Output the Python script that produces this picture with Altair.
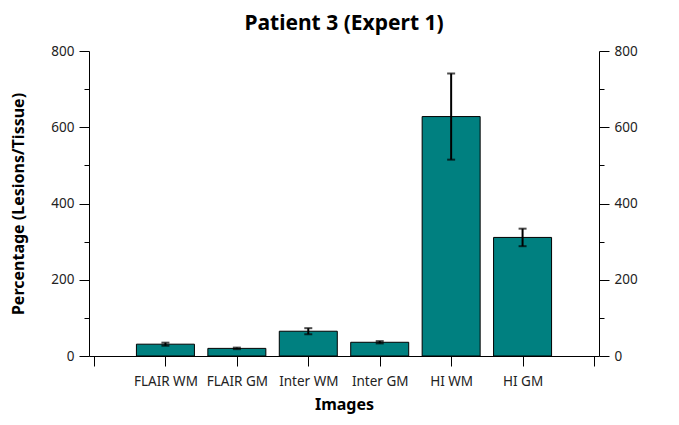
import json
import altair as alt
import pandas as pd

categories = ["FLAIR WM", "FLAIR GM", "Inter WM", "Inter GM", "HI WM", "HI GM"]
means = [31, 20, 65, 36, 628, 311]
errors = [4, 2, 8, 3, 113, 23]

df = pd.DataFrame({
    "cat": categories,
    "idx": list(range(1, len(categories) + 1)),
    "mean": means,
    "err": errors,
})
df["lo"] = df["mean"] - df["err"]
df["hi"] = df["mean"] + df["err"]

FONT = "Noto Sans"
label_arr = json.dumps([""] + categories + [""])

x_axis = alt.Axis(
    title="Images", values=list(range(0, len(categories) + 2)),
    labelExpr=f"{label_arr}[datum.value]", grid=False,
    domainColor="black", tickColor="black", tickSize=10, labelPadding=8,
    labelFont=FONT, labelFontSize=13.5, labelColor="#222",
    titleFont=FONT, titleFontSize=16, titleFontWeight="bold", titlePadding=9,
    labelAngle=0,
)
x_enc = alt.X("idx:Q", axis=x_axis,
              scale=alt.Scale(domain=[0, len(categories) + 1], nice=False, zero=False))

yticks = list(range(0, 801, 100))
tick_cond = {"condition": {"test": "datum.value % 200 === 0", "value": 10}, "value": 5}


def y_axis(orient, title, tpad):
    return alt.Axis(
        orient=orient, values=yticks, grid=False, title=title,
        labelExpr="datum.value % 200 === 0 ? datum.label : ''",
        domainColor="black", tickColor="black", tickSize=tick_cond,
        labelFont=FONT, labelFontSize=13.5, labelColor="#222", labelPadding=5,
        titleFont=FONT, titleFontSize=16, titleFontWeight="bold", titlePadding=tpad,
    )


yscale = alt.Scale(domain=[0, 800], nice=False)

bars = alt.Chart(df).mark_bar(size=58, color="#008080", stroke="black", strokeWidth=1).encode(
    x=x_enc,
    y=alt.Y("mean:Q", scale=yscale,
            axis=y_axis("left", "Percentage (Lesions/Tissue)", 24)),
)

rules = alt.Chart(df).mark_rule(color="black", strokeWidth=2).encode(
    x=alt.X("idx:Q"),
    y=alt.Y("lo:Q", scale=yscale, axis=y_axis("right", "", 10)),
    y2="hi:Q",
)

caps_hi = alt.Chart(df).mark_tick(color="black", size=8, thickness=2, orient="horizontal").encode(
    x="idx:Q", y=alt.Y("hi:Q", axis=None))
caps_lo = alt.Chart(df).mark_tick(color="black", size=8, thickness=2, orient="horizontal").encode(
    x="idx:Q", y=alt.Y("lo:Q", axis=None))

chart = alt.layer(bars, rules, caps_hi, caps_lo).resolve_scale(y="shared").resolve_axis(
    y="independent"
).properties(
    width=510, height=305,
    title=alt.TitleParams("Patient 3 (Expert 1)", font=FONT, fontSize=21,
                          fontWeight="bold", color="black", offset=10),
    background="white",
    padding={"left": 2, "top": 5, "right": 5, "bottom": 5},
).configure_view(stroke=None)

chart.save("out.html", embed_options={"renderer": "svg", "actions": False})
